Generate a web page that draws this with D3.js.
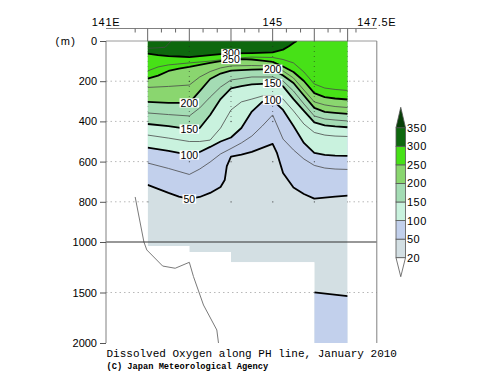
<!DOCTYPE html>
<html><head><meta charset="utf-8">
<script src="https://cdn.jsdelivr.net/npm/d3@7"></script>
<style>body{margin:0;background:#fff}svg{display:block}</style>
</head><body>
<script>
// ---------------- data ----------------
const stationLon    = [142, 143, 144, 145, 146, 146.8];
const stationBottom = [1040, 1100, 1200, 1200, 2000, 2000];   // deepest shaded depth from each station to the next
const levels      = [20, 50, 100, 150, 200, 250, 300, 350];
const levelColors = ["#d3dfe3", "#c2d0ec", "#c9f2de", "#a4dcb4", "#8ad66f", "#47e117", "#0e680e"];
const overColor = "#083f08", underColor = "#ffffff";
const yTicks = [0, 200, 400, 600, 800, 1000, 1500, 2000];
const gridDepths = [200, 400, 600, 800, 1500];
const xLabels = [[141, "141E"], [145, "145"], [147.5, "147.5E"]];
const xMajorTicks = [142, 143, 144, 145, 146, 146.8];
const xMinorTicks = [141.7, 142.33, 142.67, 143.33, 143.67, 144.33, 144.67, 145.33, 145.67, 146.33, 146.62, 147];

// contour lines: [longitude (E), depth (m)]
const c325 = [[142,36],[142.25,34],[142.42,31],[142.5,14],[142.56,0],[146.8,0]];
const c300 = [[142,63],[142.25,70],[142.5,75],[142.75,77],[143,80],[143.25,75],[143.5,70],[143.75,65],[144,62],[144.5,60],[145,57],[145.25,43],[145.4,25],[145.5,10],[145.58,0],[146.8,0]];
const c275 = [[142,149],[142.25,129],[142.5,119],[142.75,114],[143,109],[143.5,100],[144,87],[144.5,80],[145,82],[145.25,92],[145.5,109],[145.75,154],[146,214],[146.25,234],[146.5,241],[146.8,246]];
const c250 = [[142,187],[142.25,172],[142.5,149],[142.75,137],[143,129],[143.25,119],[143.5,109],[143.75,100],[144,92],[144.25,90],[144.5,92],[144.75,98],[145,104],[145.25,127],[145.5,154],[145.75,199],[146,259],[146.25,279],[146.5,286],[146.8,291]];
const c225 = [[142,231],[142.5,226],[143,219],[143.25,179],[143.5,152],[143.75,134],[144,124],[144.5,122],[145,124],[145.25,149],[145.5,184],[145.75,244],[146,303],[146.25,318],[146.5,326],[146.8,331]];
const c200 = [[142,303],[142.5,308],[143,308],[143.25,249],[143.5,189],[143.75,162],[144,147],[144.5,142],[145,140],[145.25,172],[145.5,209],[145.75,271],[146,333],[146.25,353],[146.5,358],[146.8,363]];
const c175 = [[142,358],[142.5,366],[143,373],[143.25,333],[143.5,279],[143.75,229],[144,194],[144.5,179],[145,179],[145.25,199],[145.5,249],[145.75,313],[146,373],[146.25,388],[146.5,393],[146.8,398]];
const c150 = [[142,413],[142.5,423],[143,438],[143.25,433],[143.5,368],[143.75,289],[144,236],[144.25,224],[144.5,216],[145,211],[145.25,226],[145.5,289],[145.75,348],[146,405],[146.25,420],[146.5,425],[146.8,429]];
const c125 = [[142,468],[142.5,483],[143,500],[143.25,500],[143.5,493],[143.75,433],[144,343],[144.25,303],[144.5,289],[144.75,274],[145,271],[145.25,289],[145.5,348],[145.75,413],[146,455],[146.25,468],[146.5,473],[146.8,475]];
const c100 = [[142,530],[142.5,547],[143,567],[143.25,552],[143.5,527],[143.75,500],[144,480],[144.25,433],[144.5,351],[144.75,303],[145,294],[145.25,343],[145.5,423],[145.75,507],[146,557],[146.25,567],[146.5,570],[146.8,572]];
const c75  = [[142,607],[142.5,634],[143,664],[143.25,637],[143.5,602],[143.75,562],[144,535],[144.25,507],[144.5,473],[144.75,423],[145,368],[145.25,488],[145.5,542],[145.75,587],[146,619],[146.25,632],[146.5,637],[146.8,639]];
const c50  = [[142,716],[142.25,736],[142.5,756],[142.75,774],[143,786],[143.25,776],[143.5,756],[143.75,726],[143.85,692],[143.9,622],[144,575],[144.25,565],[144.5,552],[144.75,532],[145,512],[145.1,555],[145.25,657],[145.5,729],[145.75,761],[146,784],[146.25,779],[146.5,774],[146.8,769]];
const c50deep = [[146,1498],[146.8,1535]];
const seafloor = [[141.70,776],[141.91,1000],[141.98,1079],[142.10,1129],[142.36,1238],[142.66,1260],[143.0,1201],[143.10,1343],[143.34,1624],[143.66,1871],[143.70,2000]];

const thickContours = [[50,c50],[100,c100],[150,c150],[200,c200],[250,c250],[300,c300]];
const thinContours  = [c75, c125, c175, c225, c275, c325];
const contourLabels = [[300,144],[250,144],[200,143],[150,143],[100,143],[50,143],[200,145],[150,145],[100,145]];

// ---------------- drawing ----------------
const svg = d3.select("body").append("svg").attr("width",500).attr("height",387);
const x = d3.scaleLinear().domain([141,147.5]).range([106,376.8]);
const y = d3.scaleLinear().domain([0,1000,2000]).range([41,242,343]);
const font = "Liberation Sans, Arial, Helvetica, sans-serif";
const X0 = x(141), X1 = x(147.5);

// grid lines (under data)
svg.append("g").selectAll("line").data(gridDepths).join("line")
  .attr("x1",X0).attr("x2",X1).attr("y1",d=>y(d)).attr("y2",d=>y(d))
  .attr("stroke","#b8b8b8").attr("stroke-width",1).attr("stroke-dasharray","1.5,3");

// clip to data region
const stations = stationLon.map((l,i)=>[l, stationBottom[i]]);
const regionArea = d3.area().curve(d3.curveStepAfter)
  .x(d=>x(d[0])).y0(y(0)).y1(d=>y(d[1]));
svg.append("clipPath").attr("id","dataclip").append("path").attr("d", regionArea(stations));

const g = svg.append("g").attr("clip-path","url(#dataclip)");
g.append("path").attr("d", regionArea(stations)).attr("fill", levelColors[0]);

// deep water: higher value below the deep 50 contour
g.append("path")
  .attr("d", d3.area().x(d=>x(d[0])).y0(d=>y(d[1])).y1(y(2000))(c50deep))
  .attr("fill", levelColors[1]);

const topArea = d3.area().x(d=>x(d[0])).y0(y(0)).y1(d=>y(d[1]));
thickContours.forEach(([lev,c])=>{
  const idx = levels.indexOf(lev);
  g.append("path").attr("d", topArea(c)).attr("fill", levelColors[idx]);
});

// line generator skipping runs along the surface
function lineD(c){
  const def = c.map((p,i)=> p[1]>0 || (i>0 && c[i-1][1]>0) || (i<c.length-1 && c[i+1][1]>0));
  return d3.line().defined((d,i)=>def[i]).x(d=>x(d[0])).y(d=>y(d[1]))(c);
}
thinContours.forEach(c=>{
  g.append("path").attr("d", lineD(c)).attr("fill","none")
   .attr("stroke","#4a4a4a").attr("stroke-width",0.8);
});
thickContours.forEach(([lev,c])=>{
  g.append("path").attr("d", lineD(c)).attr("fill","none")
   .attr("stroke","#000").attr("stroke-width",1.8).attr("stroke-linejoin","round");
});
g.append("path").attr("d", lineD(c50deep)).attr("fill","none")
   .attr("stroke","#000").attr("stroke-width",1.8);

// station sample dots
stationLon.forEach((l,i)=>{
  const bot = stationBottom[Math.min(i, stationBottom.length-1)];
  g.append("line").attr("x1",x(l)).attr("x2",x(l)).attr("y1",y(0)).attr("y2",y(400))
   .attr("stroke","#222").attr("stroke-width",1).attr("stroke-dasharray","1,4").attr("opacity",0.55);
  gridDepths.filter(dd=>dd<=bot).forEach(dd=>{
    g.append("rect").attr("x",x(l)-0.5).attr("y",y(dd)-0.5).attr("width",1.2).attr("height",1.2)
     .attr("fill","#333").attr("opacity",0.7);
  });
});

// contour labels
function depthAt(c, lon){
  for(let i=0;i<c.length-1;i++){
    if(lon>=c[i][0] && lon<=c[i+1][0]){
      const t=(lon-c[i][0])/(c[i+1][0]-c[i][0]);
      return c[i][1]+t*(c[i+1][1]-c[i][1]);
    }
  }
  return c[c.length-1][1];
}
const cmap = new Map(thickContours);
contourLabels.forEach(([lev,lon])=>{
  const cx = x(lon), cy = y(depthAt(cmap.get(lev), lon));
  const lg = svg.append("g");
  const t = lg.append("text").attr("x",cx).attr("y",cy+3.6).attr("text-anchor","middle")
    .attr("font-family",font).attr("font-size",10.5).attr("fill","#000").text(lev);
  const w = t.node().getComputedTextLength();
  lg.insert("rect","text").attr("x",cx-w/2-1).attr("y",cy-4.6).attr("width",w+2).attr("height",9.2).attr("fill","#fff");
});

// seafloor line
svg.append("path").attr("d", d3.line().x(d=>x(d[0])).y(d=>y(d[1]))(seafloor))
  .attr("fill","none").attr("stroke","#7a7a7a").attr("stroke-width",1);

// 1000 m break line
svg.append("line").attr("x1",X0).attr("x2",X1).attr("y1",y(1000)).attr("y2",y(1000))
  .attr("stroke","#333").attr("stroke-width",1.2);

// frame
const axc = "#808080";
svg.append("line").attr("x1",X0).attr("x2",X0).attr("y1",y(0)).attr("y2",y(2000)).attr("stroke",axc);
svg.append("line").attr("x1",X1).attr("x2",X1).attr("y1",y(0)).attr("y2",y(2000)).attr("stroke",axc);
svg.append("line").attr("x1",X0).attr("x2",X1).attr("y1",y(0)).attr("y2",y(0)).attr("stroke",axc).attr("stroke-width",0.8);

// left axis
const ly = svg.append("g").attr("transform",`translate(${X0},0)`)
  .call(d3.axisLeft(y).tickValues(yTicks).tickFormat(d3.format("d")).tickSize(6).tickPadding(3));
ly.select(".domain").remove();
ly.selectAll(".tick line").attr("stroke","#555");
ly.selectAll(".tick text").attr("font-family",font).attr("font-size",11).attr("fill","#000");
svg.append("text").attr("x",66).attr("y",y(0)+4).attr("text-anchor","middle")
  .attr("font-family",font).attr("font-size",11).attr("letter-spacing",1.5).text("(m)");

// top axis
const TY = 28.5;
svg.append("line").attr("x1",X0).attr("x2",X1).attr("y1",TY).attr("y2",TY).attr("stroke",axc);
svg.append("g").selectAll("line").data(xMajorTicks).join("line")
  .attr("x1",d=>x(d)).attr("x2",d=>x(d)).attr("y1",TY).attr("y2",y(0)).attr("stroke","#666");
svg.append("g").selectAll("line").data(xMinorTicks).join("line")
  .attr("x1",d=>x(d)).attr("x2",d=>x(d)).attr("y1",TY).attr("y2",TY+4).attr("stroke","#666");
svg.append("g").selectAll("text").data(xLabels).join("text")
  .attr("x",d=>x(d[0])).attr("y",26).attr("text-anchor","middle")
  .attr("font-family",font).attr("font-size",11).attr("letter-spacing",0.7).text(d=>d[1]);

// colour bar
const cb = d3.scalePoint().domain(levels).range([257.7,127.7]);
const bx0 = 396, bx1 = 405.5, bxm = (bx0+bx1)/2;
const cbg = svg.append("g");
levels.slice(0,-1).forEach((lv,i)=>{
  cbg.append("rect").attr("x",bx0).attr("y",cb(levels[i+1])).attr("width",bx1-bx0)
    .attr("height",cb(lv)-cb(levels[i+1])).attr("fill",levelColors[i])
    .attr("stroke","#555").attr("stroke-width",0.8);
});
cbg.append("path").attr("d",`M${bx0},${cb(350)}L${bxm},107.3L${bx1},${cb(350)}Z`)
  .attr("fill",overColor).attr("stroke","#555").attr("stroke-width",0.8);
cbg.append("path").attr("d",`M${bx0},${cb(20)}L${bxm},276.7L${bx1},${cb(20)}Z`)
  .attr("fill",underColor).attr("stroke","#555").attr("stroke-width",0.8);
cbg.selectAll("text").data(levels).join("text")
  .attr("x",407).attr("y",d=>cb(d)+4).attr("font-family",font).attr("font-size",11)
  .attr("letter-spacing",0.5).text(d=>d);

// titles
svg.append("text").attr("x",106.5).attr("y",356.5)
  .attr("font-family","Liberation Mono, Courier New, monospace").attr("font-size",11)
  .text("Dissolved Oxygen along PH line, January 2010");
svg.append("text").attr("x",106.5).attr("y",368.8)
  .attr("font-family","Liberation Mono, Courier New, monospace").attr("font-size",8.7).attr("font-weight","bold")
  .text("(C) Japan Meteorological Agency");
</script>
</body></html>
